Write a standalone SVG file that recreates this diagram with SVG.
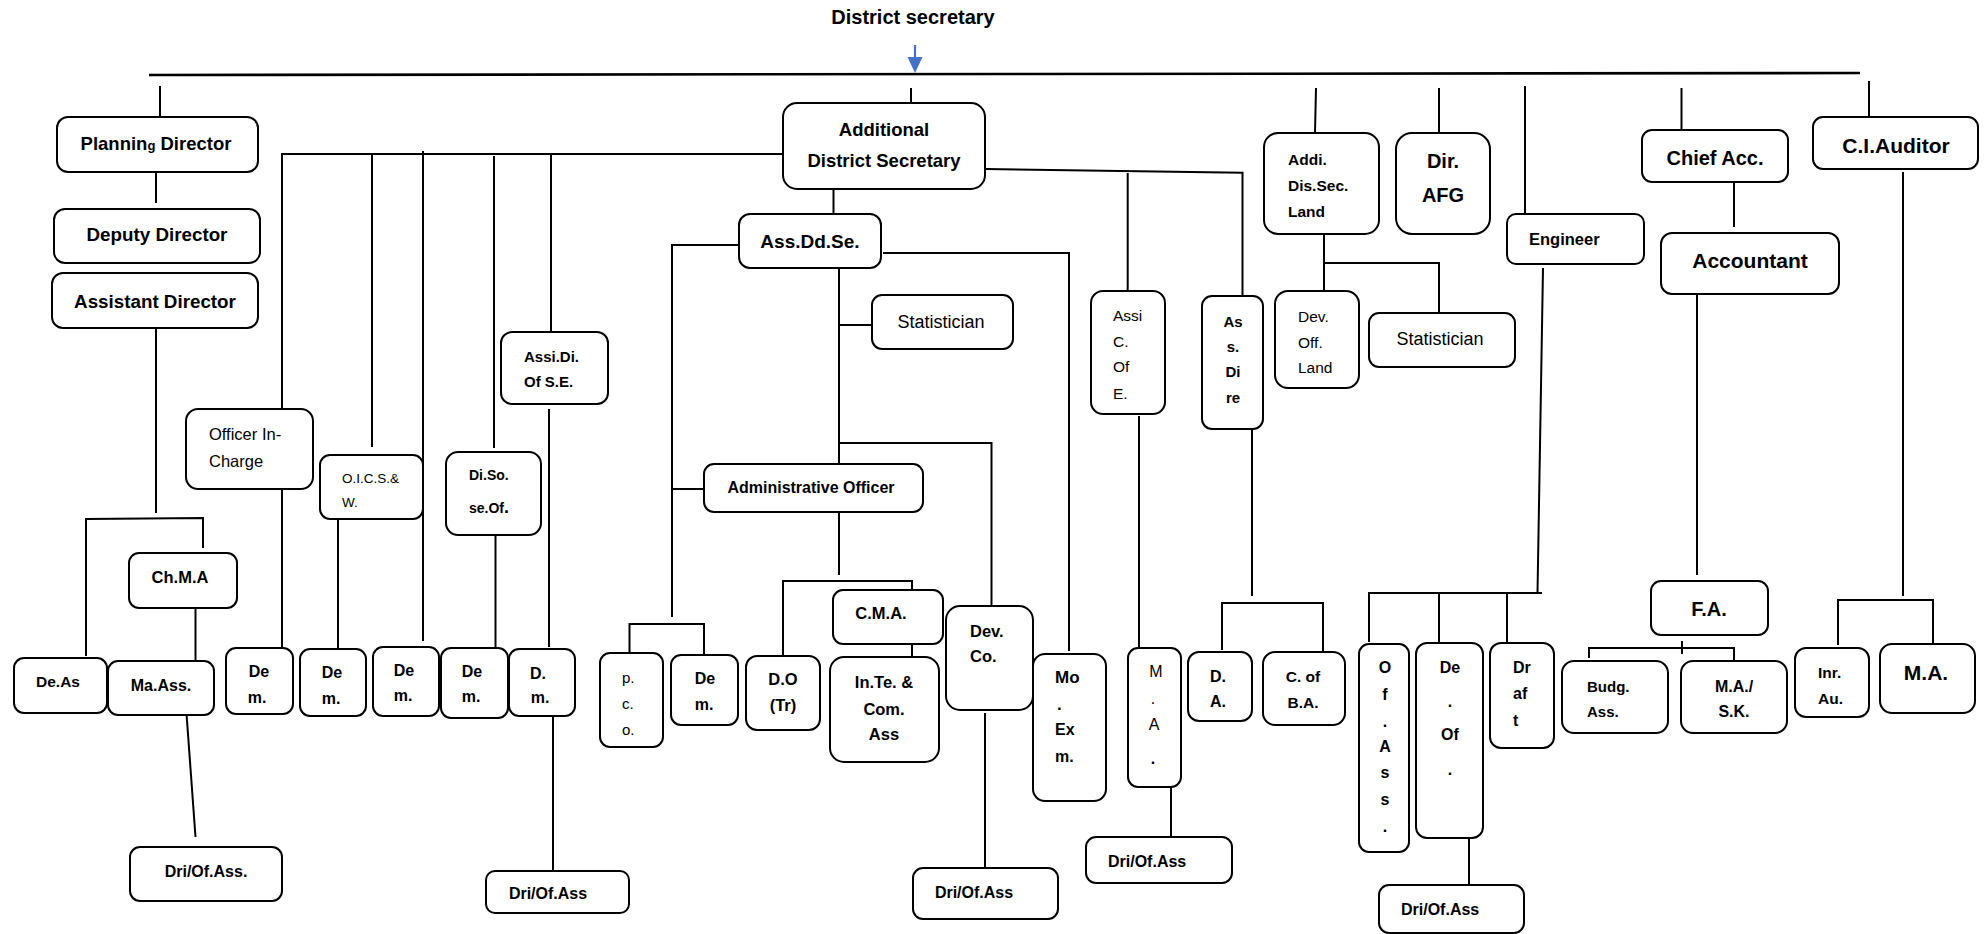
<svg xmlns="http://www.w3.org/2000/svg" width="1986" height="934" viewBox="0 0 1986 934">
<style>
rect.n{fill:#fff;stroke:#000;stroke-width:2}
text{font-family:"Liberation Sans",Arial,sans-serif;fill:#000}
.b{font-weight:bold}
.c{text-anchor:middle}
#conn line,#conn path{fill:none;stroke:#000;stroke-width:2}
</style>
<rect width="1986" height="934" fill="#fff"/>
<g id="conn">
<path d="M149 75 L1860 73" style="stroke-width:2.6"/>
<line x1="915" y1="45" x2="915" y2="60" style="stroke:#4472C4;stroke-width:2.2"/>
<polygon points="907.5,57 922.5,57 915,73" fill="#4472C4"/>
<line x1="160" y1="86" x2="160" y2="118"/>
<line x1="156" y1="172" x2="156" y2="203"/>
<line x1="156" y1="328" x2="156" y2="513"/>
<path d="M86 656 L86 519 L203 518 L203 548"/>
<line x1="195.5" y1="608" x2="195.5" y2="661"/>
<line x1="186.6" y1="715" x2="195.5" y2="837"/>
<line x1="911" y1="88" x2="911" y2="103"/>
<path d="M783 154 L282 154 L282 409"/>
<line x1="282" y1="489" x2="282" y2="647"/>
<line x1="372" y1="154" x2="372" y2="447"/>
<line x1="338" y1="519" x2="338" y2="649"/>
<line x1="423" y1="151" x2="423" y2="641"/>
<line x1="494" y1="156" x2="494" y2="448"/>
<line x1="495.5" y1="535" x2="495.5" y2="648"/>
<line x1="551" y1="154" x2="551" y2="332"/>
<line x1="549" y1="409" x2="549" y2="647"/>
<line x1="553" y1="716" x2="553" y2="883"/>
<line x1="833.5" y1="182" x2="833.5" y2="213"/>
<path d="M739 245 L672 245 L672 617"/>
<line x1="672" y1="489" x2="704" y2="489"/>
<path d="M629.5 653 L629.5 624 L704 624 L704 655"/>
<path d="M883 253 L1069 253 L1069 651"/>
<line x1="839" y1="268" x2="839" y2="464"/>
<line x1="839" y1="325" x2="872" y2="325"/>
<path d="M839 443 L991.5 443 L991.5 606"/>
<line x1="839" y1="512" x2="839" y2="575"/>
<path d="M783 656 L783 581 L912 581 L912 590"/>
<line x1="912" y1="644" x2="912" y2="659"/>
<line x1="985" y1="713" x2="985" y2="893"/>
<path d="M985.7 169 L1242.5 172.7 L1242.5 296"/>
<line x1="1127.7" y1="173" x2="1127.7" y2="291"/>
<line x1="1139" y1="416" x2="1139" y2="648"/>
<line x1="1171" y1="787" x2="1171" y2="837"/>
<line x1="1252" y1="429" x2="1252" y2="596"/>
<path d="M1222 650 L1222 603 L1323 603 L1323 652"/>
<line x1="1316" y1="88" x2="1315" y2="133"/>
<line x1="1324" y1="234" x2="1324" y2="293"/>
<path d="M1324 263 L1439 263 L1439 313"/>
<line x1="1439" y1="88" x2="1439" y2="133"/>
<line x1="1525" y1="86" x2="1525" y2="213"/>
<line x1="1543" y1="268" x2="1537.5" y2="593"/>
<path d="M1369 642 L1369 593 L1542 593"/>
<line x1="1439" y1="593" x2="1439" y2="643"/>
<line x1="1507" y1="593" x2="1507" y2="643"/>
<line x1="1469" y1="838" x2="1469" y2="885"/>
<line x1="1681.5" y1="88" x2="1681.5" y2="131"/>
<line x1="1734" y1="182" x2="1734" y2="227"/>
<line x1="1697" y1="294" x2="1697" y2="575"/>
<line x1="1682" y1="641" x2="1682" y2="654"/>
<path d="M1589 658 L1589 648 L1734 648 L1734 660"/>
<line x1="1869" y1="81" x2="1869" y2="126"/>
<line x1="1903" y1="172" x2="1903" y2="596"/>
<path d="M1838 645 L1838 600 L1933 600 L1933 643"/>
</g>

<g id="title"><text class="b c" x="913" y="24" font-size="20">District secretary</text></g>

<g id="planning"><rect class="n" x="57" y="117" width="201" height="55" rx="11"/><text class="b c" x="156" y="150" font-size="18.5">Plannin<tspan font-size="13">g</tspan> Director</text></g>
<g id="deputy"><rect class="n" x="54" y="209" width="206" height="54" rx="11"/><text class="b c" x="157" y="241" font-size="18.8">Deputy Director</text></g>
<g id="assistant"><rect class="n" x="52" y="273" width="206" height="55" rx="11"/><text class="b c" x="155" y="308" font-size="18.8">Assistant Director</text></g>
<g id="chma"><rect class="n" x="129" y="553" width="108" height="55" rx="10"/><text class="b c" x="180" y="583" font-size="16.5">Ch.M.A</text></g>
<g id="deas"><rect class="n" x="14" y="658" width="93" height="55" rx="10"/><text class="b c" x="58" y="687" font-size="15.5">De.As</text></g>
<g id="maass"><rect class="n" x="108" y="661" width="106" height="54" rx="10"/><text class="b c" x="161" y="691" font-size="16">Ma.Ass.</text></g>
<g id="dri1"><rect class="n" x="130" y="847" width="152" height="54" rx="10"/><text class="b c" x="206" y="877" font-size="16">Dri/Of.Ass.</text></g>

<g id="ads"><rect class="n" x="783" y="103" width="202" height="86" rx="14"/><text class="b c" x="884" y="136" font-size="18.5">Additional</text><text class="b c" x="884" y="167" font-size="18.5">District Secretary</text></g>
<g id="officer"><rect class="n" x="186" y="409" width="127" height="80" rx="12"/><text x="209" y="440" font-size="16.5">Officer In-</text><text x="209" y="467" font-size="16.5">Charge</text></g>
<g id="oics"><rect class="n" x="320" y="455" width="103" height="64" rx="10"/><text x="342" y="483" font-size="13.5">O.I.C.S.&amp;</text><text x="342" y="507" font-size="13.5">W.</text></g>
<g id="diso"><rect class="n" x="446" y="452" width="95" height="83" rx="12"/><text class="b" x="469" y="480" font-size="14">Di.So.</text><text class="b" x="469" y="513" font-size="14">se.Of<tspan font-size="18">.</tspan></text></g>
<g id="assidi"><rect class="n" x="501" y="332" width="107" height="72" rx="11"/><text class="b" x="524" y="362" font-size="15">Assi.Di.</text><text class="b" x="524" y="387" font-size="15">Of S.E.</text></g>
<g id="dem1"><rect class="n" x="226" y="648" width="67" height="66" rx="10"/><text class="b c" x="259" y="677" font-size="16">De</text><text class="b c" x="257" y="703" font-size="16">m.</text></g>
<g id="dem2"><rect class="n" x="300" y="649" width="66" height="67" rx="10"/><text class="b c" x="332" y="678" font-size="16">De</text><text class="b c" x="331" y="704" font-size="16">m.</text></g>
<g id="dem3"><rect class="n" x="373" y="647" width="66" height="69" rx="10"/><text class="b c" x="404" y="676" font-size="16">De</text><text class="b c" x="403" y="701" font-size="16">m.</text></g>
<g id="dem4"><rect class="n" x="441" y="648" width="67" height="70" rx="10"/><text class="b c" x="472" y="677" font-size="16">De</text><text class="b c" x="471" y="702" font-size="16">m.</text></g>
<g id="dm5"><rect class="n" x="509" y="649" width="66" height="67" rx="10"/><text class="b c" x="538" y="679" font-size="16">D.</text><text class="b c" x="540" y="703" font-size="16">m.</text></g>
<g id="dri2"><rect class="n" x="486" y="871" width="143" height="42" rx="9"/><text class="b c" x="548" y="899" font-size="16">Dri/Of.Ass</text></g>

<g id="assdd"><rect class="n" x="739" y="214" width="142" height="54" rx="11"/><text class="b c" x="810" y="248" font-size="19">Ass.Dd.Se.</text></g>
<g id="stat1"><rect class="n" x="872" y="295" width="141" height="54" rx="10"/><text class="c" x="941" y="328" font-size="18">Statistician</text></g>
<g id="ado"><rect class="n" x="704" y="464" width="219" height="48" rx="10"/><text class="b c" x="811" y="493" font-size="16">Administrative Officer</text></g>
<g id="pco"><rect class="n" x="600" y="653" width="63" height="94" rx="10"/><text x="622" y="683" font-size="15">p.</text><text x="622" y="709" font-size="15">c.</text><text x="622" y="735" font-size="15">o.</text></g>
<g id="dem6"><rect class="n" x="671" y="655" width="67" height="70" rx="10"/><text class="b c" x="705" y="684" font-size="16">De</text><text class="b c" x="704" y="710" font-size="16">m.</text></g>
<g id="do"><rect class="n" x="746" y="656" width="74" height="74" rx="11"/><text class="b c" x="783" y="685" font-size="16.5">D.O</text><text class="b c" x="783" y="711" font-size="16.5">(Tr)</text></g>
<g id="cma"><rect class="n" x="833" y="590" width="110" height="54" rx="10"/><text class="b c" x="881" y="619" font-size="16.5">C.M.A.</text></g>
<g id="inte"><rect class="n" x="830" y="657" width="109" height="105" rx="14"/><text class="b c" x="884" y="688" font-size="16.5">In.Te. &amp;</text><text class="b c" x="884" y="715" font-size="16.5">Com.</text><text class="b c" x="884" y="740" font-size="16.5">Ass</text></g>
<g id="devco"><rect class="n" x="946" y="606" width="87" height="104" rx="14"/><text class="b" x="970" y="637" font-size="16.5">Dev.</text><text class="b" x="970" y="662" font-size="16.5">Co.</text></g>
<g id="dri3"><rect class="n" x="913" y="868" width="145" height="51" rx="10"/><text class="b c" x="974" y="898" font-size="16">Dri/Of.Ass</text></g>
<g id="moexm"><rect class="n" x="1033" y="654" width="73" height="147" rx="12"/><text class="b" x="1055" y="683" font-size="17">Mo</text><text class="b" x="1057" y="710" font-size="17">.</text><text class="b" x="1055" y="735" font-size="16">Ex</text><text class="b" x="1055" y="762" font-size="16">m.</text></g>

<g id="assic"><rect class="n" x="1091" y="291" width="74" height="123" rx="12"/><text x="1113" y="321" font-size="15.5">Assi</text><text x="1113" y="347" font-size="15.5">C.</text><text x="1113" y="372" font-size="15.5">Of</text><text x="1113" y="399" font-size="15.5">E.</text></g>
<g id="ma"><rect class="n" x="1128" y="648" width="53" height="139" rx="10"/><text class="c" x="1156" y="677" font-size="16">M</text><text class="c" x="1153" y="704" font-size="16">.</text><text class="c" x="1154" y="730" font-size="16">A</text><text class="b c" x="1153" y="764" font-size="16">.</text></g>
<g id="dri4"><rect class="n" x="1086" y="837" width="146" height="46" rx="10"/><text class="b" x="1108" y="867" font-size="16">Dri/Of.Ass</text></g>
<g id="asdire"><rect class="n" x="1202" y="296" width="61" height="133" rx="10"/><text class="b c" x="1233" y="327" font-size="15">As</text><text class="b c" x="1233" y="352" font-size="15">s.</text><text class="b c" x="1233" y="377" font-size="15">Di</text><text class="b c" x="1233" y="403" font-size="15">re</text></g>
<g id="da"><rect class="n" x="1188" y="652" width="64" height="69" rx="11"/><text class="b c" x="1218" y="682" font-size="16">D.</text><text class="b c" x="1218" y="707" font-size="16">A.</text></g>
<g id="cofba"><rect class="n" x="1263" y="652" width="82" height="73" rx="12"/><text class="b c" x="1303" y="682" font-size="15.5">C. of</text><text class="b c" x="1303" y="708" font-size="15.5">B.A.</text></g>

<g id="addi"><rect class="n" x="1264" y="133" width="115" height="101" rx="14"/><text class="b" x="1288" y="165" font-size="15.5">Addi.</text><text class="b" x="1288" y="191" font-size="15.5">Dis.Sec.</text><text class="b" x="1288" y="217" font-size="15.5">Land</text></g>
<g id="devoff"><rect class="n" x="1275" y="291" width="84" height="97" rx="13"/><text x="1298" y="322" font-size="15.5">Dev.</text><text x="1298" y="348" font-size="15.5">Off.</text><text x="1298" y="373" font-size="15.5">Land</text></g>
<g id="stat2"><rect class="n" x="1369" y="313" width="146" height="54" rx="10"/><text class="c" x="1440" y="345" font-size="18">Statistician</text></g>
<g id="dirafg"><rect class="n" x="1396" y="133" width="94" height="101" rx="16"/><text class="b c" x="1443" y="168" font-size="20">Dir.</text><text class="b c" x="1443" y="202" font-size="20">AFG</text></g>
<g id="engineer"><rect class="n" x="1507" y="214" width="137" height="50" rx="9"/><text class="b" x="1529" y="245" font-size="16.5">Engineer</text></g>
<g id="ofass"><rect class="n" x="1359" y="644" width="50" height="208" rx="10"/><text class="b c" x="1385" y="673" font-size="16">O</text><text class="b c" x="1385" y="700" font-size="16">f</text><text class="b c" x="1385" y="727" font-size="16">.</text><text class="b c" x="1385" y="752" font-size="16">A</text><text class="b c" x="1385" y="778" font-size="16">s</text><text class="b c" x="1385" y="805" font-size="16">s</text><text class="b c" x="1385" y="832" font-size="16">.</text></g>
<g id="deof"><rect class="n" x="1416" y="643" width="67" height="195" rx="11"/><text class="b c" x="1450" y="673" font-size="16">De</text><text class="b c" x="1450" y="707" font-size="16">.</text><text class="b c" x="1450" y="740" font-size="16">Of</text><text class="b c" x="1450" y="775" font-size="16">.</text></g>
<g id="draft"><rect class="n" x="1490" y="643" width="64" height="105" rx="11"/><text class="b" x="1513" y="673" font-size="16">Dr</text><text class="b" x="1513" y="699" font-size="16">af</text><text class="b" x="1513" y="726" font-size="16">t</text></g>
<g id="dri5"><rect class="n" x="1379" y="885" width="145" height="48" rx="10"/><text class="b" x="1401" y="915" font-size="16">Dri/Of.Ass</text></g>

<g id="chiefacc"><rect class="n" x="1642" y="130" width="146" height="52" rx="10"/><text class="b c" x="1715" y="165" font-size="20">Chief Acc.</text></g>
<g id="accountant"><rect class="n" x="1661" y="233" width="178" height="61" rx="11"/><text class="b c" x="1750" y="268" font-size="21">Accountant</text></g>
<g id="fa"><rect class="n" x="1651" y="581" width="117" height="54" rx="10"/><text class="b c" x="1709" y="616" font-size="20">F.A.</text></g>
<g id="budg"><rect class="n" x="1562" y="661" width="106" height="72" rx="12"/><text class="b" x="1587" y="692" font-size="15">Budg.</text><text class="b" x="1587" y="717" font-size="15">Ass.</text></g>
<g id="mask"><rect class="n" x="1681" y="661" width="106" height="72" rx="12"/><text class="b c" x="1734" y="692" font-size="16">M.A./</text><text class="b c" x="1734" y="717" font-size="16">S.K.</text></g>
<g id="ciaud"><rect class="n" x="1813" y="117" width="165" height="52" rx="10"/><text class="b c" x="1896" y="153" font-size="21">C.I.Auditor</text></g>
<g id="inrau"><rect class="n" x="1795" y="648" width="74" height="69" rx="11"/><text class="b" x="1818" y="678" font-size="15.5">Inr.</text><text class="b" x="1818" y="704" font-size="15.5">Au.</text></g>
<g id="ma2"><rect class="n" x="1880" y="644" width="95" height="69" rx="12"/><text class="b c" x="1926" y="680" font-size="21">M.A.</text></g>
</svg>
